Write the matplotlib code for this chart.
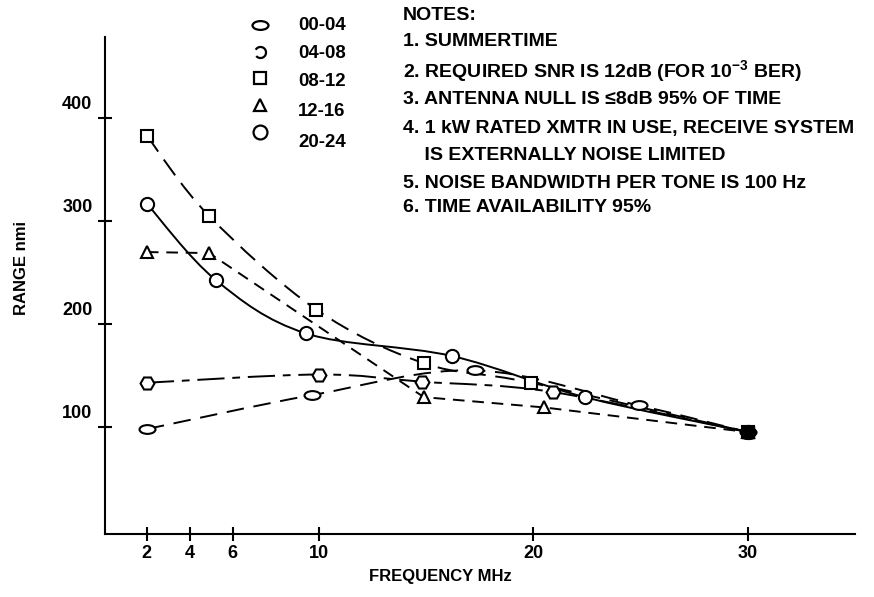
import numpy as np
import matplotlib
matplotlib.use("Agg")
import matplotlib.pyplot as plt
from matplotlib.path import Path
from matplotlib.patches import PathPatch

plt.rcParams['font.family'] = ['Liberation Sans', 'DejaVu Sans']
plt.rcParams['font.weight'] = 'bold'
plt.rcParams['mathtext.fontset'] = 'custom'
plt.rcParams['mathtext.rm'] = 'Liberation Sans:bold'
plt.rcParams['mathtext.bf'] = 'Liberation Sans:bold'

# values: frequency (MHz) and range (nmi)
f_0004 = [2, 9.7, 17.3, 24.9, 30]
r_0004 = [98, 131, 155, 121, 95]
f_0408 = [2, 10, 14.8, 20.9, 30]
r_0408 = [143, 151, 144, 134, 95]
f_0812 = [2, 4.9, 9.9, 14.9, 19.9, 30]
r_0812 = [383, 305, 214, 162, 143, 95]
f_1216 = [2, 4.9, 14.9, 20.5, 30]
r_1216 = [270, 269, 129, 119, 95]
f_2024 = [2, 5.2, 9.4, 16.2, 22.4, 30]
r_2024 = [317, 243, 191, 169, 129, 95]

labels = ['00-04', '04-08', '08-12', '12-16', '20-24']
x_ticks = [2, 4, 6, 10, 20, 30]
y_ticks = [100, 200, 300, 400]

notes = [
    "1. SUMMERTIME",
    r"2. REQUIRED SNR IS 12dB (FOR 10$^{-3}$ BER)",
    "3. ANTENNA NULL IS \u22648dB 95% OF TIME",
    "4. 1 kW RATED XMTR IN USE, RECEIVE SYSTEM",
    "    IS EXTERNALLY NOISE LIMITED",
    "5. NOISE BANDWIDTH PER TONE IS 100 Hz",
    "6. TIME AVAILABILITY 95%",
]

W, H = 874, 597


def fx(px):
    return px / W


def fy(py):
    return 1 - py / H


def smooth_path(xs, ys, tension=1 / 6):
    # catmull-rom through the read points, drawn as cubic bezier
    pts = np.column_stack([xs, ys]).astype(float)
    p = np.vstack([pts[0], pts, pts[-1]])
    verts = [pts[0]]
    codes = [Path.MOVETO]
    for i in range(1, len(p) - 2):
        c1 = p[i] + (p[i + 1] - p[i - 1]) * tension
        c2 = p[i + 1] - (p[i + 2] - p[i]) * tension
        verts += [c1, c2, p[i + 1]]
        codes += [Path.CURVE4] * 3
    return Path(verts, codes)


uc = Path.unit_circle()
ellipse = Path(uc.vertices * [1, 0.55], uc.codes)
broken = Path.arc(-140, 150)

series = [
    (f_0004, r_0004, ellipse, 11.5, (0, (9, 5)), 1 / 6),
    (f_0408, r_0408, 'H', 10, (0, (14, 4, 4, 4)), 1 / 6),
    (f_0812, r_0812, 's', 9, (0, (10, 5)), 1 / 6),
    (f_1216, r_1216, '^', 9, (0, (6, 4)), 0),
    (f_2024, r_2024, 'o', 9.5, '-', 1 / 6),
]

fig = plt.figure(figsize=(W / 100, H / 100), dpi=100)
ax = fig.add_axes([fx(105), fy(534), (855 - 105) / W, (534 - 37) / H])

for xs, ys, mk, ms, ls, ten in series:
    patch = PathPatch(smooth_path(xs, ys, ten), fill=False, lw=1.4,
                      edgecolor='black', linestyle=ls, zorder=2)
    ax.add_patch(patch)
    ax.plot(xs, ys, linestyle='none', marker=mk, markersize=ms,
            markerfacecolor='white', markeredgecolor='black',
            markeredgewidth=1.5, zorder=3)
    ax.plot(xs[-1], ys[-1], linestyle='none', marker=mk, markersize=ms,
            markerfacecolor='black', markeredgecolor='black', zorder=4)

ax.set_xlim(0.05, 34.98)
ax.set_ylim(-4, 479)
for s in ['top', 'right']:
    ax.spines[s].set_visible(False)
for s in ['left', 'bottom']:
    ax.spines[s].set_linewidth(1.5)

ax.set_xticks(x_ticks)
ax.set_xticklabels([str(t) for t in x_ticks])
ax.tick_params(axis='x', direction='inout', length=10, width=1.5, pad=3,
               labelsize=13)
ax.set_yticks(y_ticks)
ax.tick_params(axis='y', direction='inout', length=10, width=1.5,
               labelleft=False)
for t in y_ticks:
    ax.annotate(str(t), xy=(0.05, t), xycoords='data', xytext=(-9, 10),
                textcoords='offset points', ha='right', va='center',
                fontsize=13, annotation_clip=False)

fig.text(fx(440), fy(577), 'FREQUENCY MHz', ha='center', va='center',
         fontsize=12)
fig.text(fx(22), fy(268), 'RANGE nmi', ha='center', va='center',
         rotation=90, fontsize=12)

# legend drawn by hand, top middle
sym_y = [25, 52, 78, 105, 132]
lab_y = [25, 53, 82, 112, 142]
leg_marks = [(ellipse, 11.5), (broken, 8), ('s', 9), ('^', 9), ('o', 10)]
for (mk, ms), sy, ly, lab in zip(leg_marks, sym_y, lab_y, labels):
    fig.add_artist(plt.Line2D([fx(260)], [fy(sy)], transform=fig.transFigure,
                              marker=mk, markersize=ms, linestyle='none',
                              markerfacecolor='none', markeredgecolor='black',
                              markeredgewidth=1.6))
    fig.text(fx(298), fy(ly), lab, ha='left', va='center', fontsize=13.4)

fig.text(fx(403), fy(15), 'NOTES:', ha='left', va='center', fontsize=14)
note_y = [42, 72, 100, 128, 155, 183, 208]
for ny, line in zip(note_y, notes):
    fig.text(fx(403), fy(ny), line, ha='left', va='center', fontsize=14)

fig.savefig('out.png', dpi=100, facecolor='white')
